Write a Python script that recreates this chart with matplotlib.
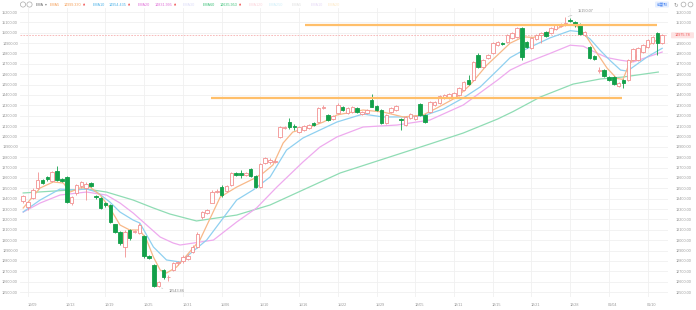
import matplotlib
matplotlib.use("Agg")
import matplotlib.pyplot as plt
import matplotlib.transforms as mtrans
from matplotlib.patches import Circle, FancyBboxPatch
import numpy as np

plt.rcParams['font.family'] = ['Liberation Sans', 'DejaVu Sans']

# ---------------- data (4h bars) ----------------
opens = [13380,13320,13405,13500,13580,13610,13575,13665,13590,13610,13360,13450,13520,13500,13550,13430,13405,13360,13340,13155,
         13080,12935,13100,13075,13070,13040,12847,12760,12560,12712,12640,12712,12780,12800,12820,12886,12934,13220,13260,13360,
         13460,13510,13470,13530,13650,13650,13630,13690,13620,13515,13740,13750,13755,13995,14085,14140,14100,14045,14060,14080,
         14130,14140,14275,14205,14170,14225,14285,14230,14240,14275,14215,14225,14350,14295,14255,14130,14235,14255,14170,14110,
         14180,14168,14310,14205,14235,14305,14320,14370,14375,14380,14400,14450,14545,14545,14785,14670,14760,14805,14880,14905,
         14910,14950,14960,15045,14910,14855,14940,14975,15005,14995,15040,15065,15075,15125,15100,15085,14980,14860,14775,14630,
         14640,14575,14575,14490,14545,14545,14735,14735,14815,14860,14900,15000,14905]
highs = [13440,13375,13500,13655,13590,13620,13665,13715,13600,13615,13430,13545,13575,13560,13560,13440,13420,13370,13350,13160,
         13090,13095,13110,13095,13165,13050,12855,12770,12605,12720,12660,12790,12800,12860,12865,12950,13075,13285,13305,13480,
         13490,13530,13530,13660,13660,13680,13660,13700,13625,13745,13805,13790,13780,14100,14105,14180,14120,14100,14110,14120,
         14140,14285,14300,14215,14210,14320,14295,14280,14290,14285,14245,14265,14410,14305,14265,14215,14285,14305,14180,14195,
         14225,14205,14320,14215,14340,14340,14400,14410,14420,14430,14475,14535,14590,14730,14800,14745,14795,14910,14920,14915,
         14990,15005,15055,15060,14920,14960,14985,15010,15015,15055,15085,15090,15150.07,15140,15110,15095,15015,14870,14790,14665,
         14650,14585,14585,14525,14555,14745,14850,14860,14890,14940,14970,15010,14990]
lows = [13360,13290,13395,13495,13540,13570,13565,13570,13565,13355,13340,13440,13505,13390,13515,13400,13300,13320,13165,13070,
        12950,12840,13000,13065,13060,12830,12815,12550,12543.86,12630,12610,12700,12765,12780,12810,12875,12925,13200,13250,13355,
        13450,13420,13460,13520,13620,13600,13620,13610,13505,13505,13730,13730,13740,13985,14075,14070,14060,14035,14050,14070,
        14105,14130,14265,14150,14160,14215,14245,14220,14230,14225,14205,14215,14280,14245,14120,14120,14225,14245,14060,14100,
        14170,14160,14200,14130,14225,14295,14310,14360,14365,14370,14390,14440,14495,14535,14660,14660,14750,14795,14870,14885,
        14900,14940,14950,14740,14850,14845,14930,14900,14955,14985,15030,15055,15065,15105,15060,14980,14970,14745,14735,14610,
        14570,14535,14495,14480,14470,14535,14725,14725,14805,14850,14890,14790,14895]
closes = [13425,13365,13480,13580,13555,13585,13655,13580,13575,13370,13415,13530,13560,13540,13525,13420,13310,13340,13175,13080,
          12975,13080,13020,13085,13146,12847,12828,12560,12596,12645,12645,12780,12790,12840,12851,12934,13061,13270,13294,13465,
          13478,13435,13518,13650,13630,13625,13650,13620,13515,13735,13795,13775,13768,14090,14094,14090,14090,14090,14100,14112,
          14115,14275,14284,14160,14200,14300,14255,14270,14280,14235,14235,14255,14285,14255,14130,14205,14275,14295,14160,14188,
          14215,14197,14205,14140,14330,14330,14390,14400,14410,14420,14465,14525,14505,14720,14670,14735,14785,14900,14910,14895,
          14980,14995,15045,14765,14860,14950,14975,15000,14965,15045,15075,15080,15095,15115,15070,14990,15005,14755,14750,14645,
          14580,14545,14505,14515,14520,14735,14840,14850,14880,14930,14960,14900,14975.78]

# EMA curves: (bar position, value)
ema5_x = [0,3.5,6.2,8.3,9.7,11.7,13.8,15.9,17.9,20,22,24.1,25.5,26.9,28.3,29.6,31.7,36.5,40.7,44.1,47.5,49.6,51.6,53.7,55.7,
          59.3,62,64.8,70.2,74.3,78.5,82.6,85.5,89.6,92.3,95.8,98,100.6,103.3,105.4,108.8,112.3,114.4,116.4,118.5,120.6,122.6,
          123.9,125.1,127.2,129.5,132]
ema5_y = [13310,13503,13561,13551,13464,13503,13512,13435,13310,13146,13098,13098,13001,12837,12712,12683,12741,13001,13416,
          13512,13590,13648,13725,13937,14043,14091,14139,14207,14255,14236,14188,14207,14275,14380,14496,14689,14785,14900,14960,
          14955,15010,15080,15065,14959,14805,14660,14560,14550,14690,14800,14890,14960]
ema10_x = [0,3.5,7.6,10.4,13.1,15.2,17.9,20,22.7,24.1,26.9,29.6,32.4,37.9,44.1,47.5,51,54.4,57.8,61.3,64.8,70.2,74.3,78.5,
           82.6,86.8,90.9,94.4,98,100.6,103.3,108.8,113,115,117.1,119.2,121.3,123.4,124.8,126.9,129,132]
ema10_y = [13272,13387,13493,13484,13493,13464,13368,13271,13194,13165,12934,12809,12789,13001,13387,13484,13609,13869,13985,
           14062,14139,14216,14188,14188,14197,14265,14371,14477,14640,14760,14830,14950,15020,15010,14940,14830,14730,14640,
           14630,14700,14770,14850]
ema20_x = [0,3.5,7.6,13.1,17.2,20,22.7,25.5,28.3,31,32.4,39.3,44.1,48.2,52.4,57.8,61.3,64.8,70.2,77.2,84,90.9,98,100.6,103.3,
           108.8,113,115.7,117.8,120.6,123.4,126,129,132]
ema20_y = [13271,13358,13435,13464,13435,13358,13262,13146,13030,12972,12953,13001,13175,13310,13512,13754,13898,13995,14091,
           14110,14158,14303,14544,14640,14700,14800,14880,14870,14820,14760,14735,14718,14766,14814]
ema60_x = [0,13.1,17.2,22.7,26.9,30.3,35.8,44.1,51,57.8,65.5,84,90.9,98,101.2,106.8,113.6,119.2,123.9,131.2]
ema60_y = [13455,13493,13464,13387,13310,13252,13185,13242,13339,13484,13648,13927,14033,14168,14240,14380,14505,14554,14573,14621]

date_labels = ['10/09','10/13','10/19','10/25','10/31','11/06','11/10','11/16','11/22',
               '11/29','12/05','12/11','12/15','12/21','12/28','01/04','01/10']
y_ticks = list(range(12500, 15201, 100))
last_price = 14975.78
high_price = 15150.07
low_price = 12543.86
resist_level = 15070
support_level = 14366

legend_names = ['EMA5', 'EMA10', 'EMA20', 'EMA30', 'EMA60', 'EMA120', 'EMA250', 'EMA5', 'EMA10', 'EMA20']
legend_vals = ['14999.330', '14954.435', '14831.995', None, '14635.953', None, None, None, None, None]

FS = 2.7

# ---------------- figure ----------------
W, H = 696, 310
fig = plt.figure(figsize=(W/100, H/100), dpi=100)
fig.patch.set_facecolor('white')

def px(x0, y0, x1, y1):
    return [x0/W, 1 - y1/H, (x1-x0)/W, (y1-y0)/H]

ax = fig.add_axes(px(20, 8, 668, 297))
ax.set_xlim(-0.66, 133.2)
ax.set_ylim(12451.8, 15238.6)
for s in ax.spines.values():
    s.set_visible(False)

grid_c = '#f0f0f0'
ax.set_yticks(y_ticks)
ax.set_yticklabels([f'{v:.2f}' for v in y_ticks])
ax.tick_params(axis='y', length=0, labelsize=FS, labelcolor='#999999', pad=1.5)
ax.grid(axis='y', color=grid_c, lw=0.6)
grid_bars = [1 + 8*k for k in range(len(date_labels))]
ax.set_xticks(grid_bars)
ax.set_xticklabels(date_labels)
ax.tick_params(axis='x', length=0, labelsize=FS, labelcolor='#999999', pad=4)
ax.grid(axis='x', color=grid_c, lw=0.6)
off = mtrans.ScaledTranslation(4/100, 0, fig.dpi_scale_trans)
for lab in ax.get_xticklabels():
    lab.set_transform(lab.get_transform() + off)
ax.set_axisbelow(True)

# right axis: the last-price tag covers the 15000 level
right_ticks = [v for v in y_ticks if abs(v - last_price) > 50]
ax2 = ax.twinx()
ax2.set_ylim(ax.get_ylim())
ax2.set_yticks(right_ticks)
ax2.set_yticklabels([f'{v:.2f}' for v in right_ticks])
ax2.tick_params(axis='y', length=0, labelsize=FS, labelcolor='#999999', pad=5.5)
for s in ax2.spines.values():
    s.set_visible(False)

# candles
o = np.array(opens); h = np.array(highs); l = np.array(lows); c = np.array(closes)
xb = np.arange(len(o))
up = c >= o
red = '#f29090'
green = '#12a04a'
top = np.maximum(o, c); bot = np.minimum(o, c)
ax.vlines(xb[up], top[up], h[up], color=red, lw=0.6, zorder=3)
ax.vlines(xb[up], l[up], bot[up], color=red, lw=0.6, zorder=3)
ax.vlines(xb[~up], l[~up], h[~up], color=green, lw=0.6, zorder=3)
ax.bar(xb[up], (top-bot)[up], bottom=bot[up], width=0.72, facecolor='white', edgecolor=red, lw=0.6, zorder=4)
ax.bar(xb[~up], (top-bot)[~up], bottom=bot[~up], width=0.72, facecolor=green, edgecolor=green, lw=0.6, zorder=4)

# EMA lines
ax.plot(ema60_x, ema60_y, color='#8fdcb4', lw=0.9, zorder=2)
ax.plot(ema20_x, ema20_y, color='#eeaaee', lw=0.9, zorder=2)
ax.plot(ema10_x, ema10_y, color='#8fd0f0', lw=0.9, zorder=2)
ax.plot(ema5_x, ema5_y, color='#f8b888', lw=0.9, zorder=2)

# drawn horizontal levels
ax.plot([58.2, 130.9], [resist_level]*2, color='#ffbf6a', lw=1.6, zorder=5, solid_capstyle='butt')
ax.plot([38.8, 123.7], [support_level]*2, color='#ffbf6a', lw=1.6, zorder=5, solid_capstyle='butt')

# last price line
ax.axhline(last_price, color='#f6b0b0', lw=0.6, ls=(0, (2, 1.5)), zorder=1)

# high / low annotations
ax.annotate(f'{high_price:.2f}', xy=(112, high_price), xytext=(114.5, 15205), fontsize=FS, color='#888888',
            va='center', ha='left', arrowprops=dict(arrowstyle='-', color='#bbbbbb', lw=0.4))
ax.annotate(f'{low_price:.2f}', xy=(28, low_price), xytext=(30, 12508), fontsize=FS, color='#888888',
            va='center', ha='left', arrowprops=dict(arrowstyle='-', color='#bbbbbb', lw=0.4))

# ---------------- overlay (pixel coordinates) ----------------
ov = fig.add_axes([0, 0, 1, 1], facecolor='none')
ov.set_xlim(0, W); ov.set_ylim(H, 0); ov.axis('off')

# last price tag on the right axis
ov.add_patch(FancyBboxPatch((671, 32.3), 23, 6, boxstyle='round,pad=0,rounding_size=1',
                            facecolor='#fde3e3', edgecolor='none'))
ov.text(682.5, 35.4, f'{last_price:.2f}', fontsize=FS, color='#ee5555', ha='center', va='center')

# legend row
ov.add_patch(Circle((23, 4.5), 2.6, facecolor='none', edgecolor='#aaaaaa', lw=0.5))
ov.add_patch(Circle((29.5, 4.5), 2.6, facecolor='none', edgecolor='#aaaaaa', lw=0.5))
ov.text(36, 4.5, 'EMA', fontsize=FS, color='#666666', va='center')
ov.text(45, 4.5, '▾', fontsize=FS, color='#888888', va='center', family='DejaVu Sans')
items = [
    (50, '#f5a05a', legend_names[0], legend_vals[0], 64),
    (93, '#4fb3e8', legend_names[1], legend_vals[1], 109),
    (138, '#e070d8', legend_names[2], legend_vals[2], 155),
    (183, '#dcdcf8', legend_names[3], None, None),
    (203, '#3cc078', legend_names[4], legend_vals[4], 220),
    (249, '#fbd3da', legend_names[5], None, None),
    (269, '#cfeef8', legend_names[6], None, None),
    (292, '#e0e0e0', legend_names[7], None, None),
    (311, '#e6d8f6', legend_names[8], None, None),
    (328, '#fde9c6', legend_names[9], None, None),
]
for x0, col, name, val, xv in items:
    ov.text(x0, 4.5, name, fontsize=FS, color=col, va='center')
    if val is not None:
        ov.text(xv, 4.5, val, fontsize=FS, color=col, va='center')
        ov.text(xv + 18.5, 4.5, '▲', fontsize=2.0, color='#ee3333', va='center', family='DejaVu Sans')

# top-right controls
ov.add_patch(FancyBboxPatch((655, 1.5), 14, 6, boxstyle='round,pad=0,rounding_size=1',
                            facecolor='#e6efff', edgecolor='none'))
ov.text(662, 4.6, '前复权', fontsize=FS, color='#3b7cf0', ha='center', va='center',
        family=['Noto Sans CJK SC', 'DejaVu Sans'])
ov.text(676, 4.5, '↻', fontsize=4, color='#999999', ha='center', va='center', family='DejaVu Sans')
ov.add_patch(Circle((683.5, 4.5), 2.4, facecolor='none', edgecolor='#aaaaaa', lw=0.5))
ov.add_patch(Circle((690.5, 4.5), 2.4, facecolor='none', edgecolor='#aaaaaa', lw=0.5))

fig.savefig('out.png', dpi=100, facecolor='white')
